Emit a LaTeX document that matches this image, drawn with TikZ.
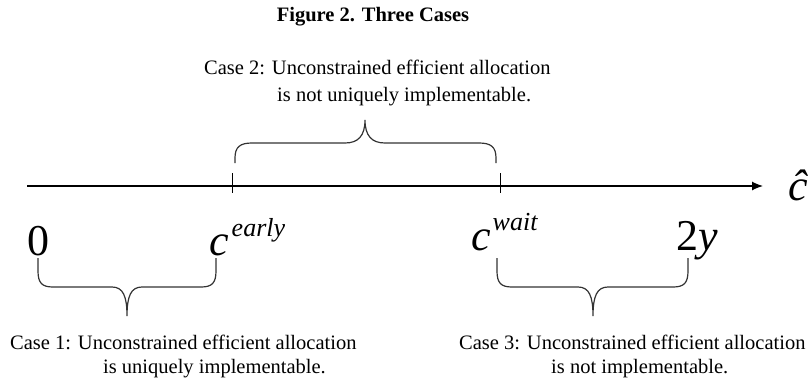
\documentclass[tikz,border=0pt]{standalone}
\usepackage{fontspec}
\setmainfont{Liberation Serif}
\usetikzlibrary{arrows.meta}
\newcommand{\mbig}{\fontsize{44}{44}\selectfont\itshape}
\newcommand{\msup}{\fontsize{26}{26}\selectfont\itshape}
\tikzset{
  lbl/.style={inner sep=0pt, anchor=base west},
  casetxt/.style={inner sep=0pt, anchor=base west, font=\fontsize{20.5}{24}\selectfont},
  brace/.style={line width=1.2pt, draw=black!80},
  tick/.style={line width=1pt}
}
\begin{document}
\begin{tikzpicture}[x=1pt,y=-1pt]
\useasboundingbox (0,0) rectangle (812,378);
% title and upper case
\node[inner sep=0pt, anchor=base, font=\fontsize{20.5}{24}\selectfont\bfseries] (title) at (373,21) {Figure 2. Three Cases};
\node[casetxt] (case2a) at (204,74) {Case 2: Unconstrained efficient allocation};
\node[casetxt] (case2b) at (277,101) {is not uniquely implementable.};
% axis
\coordinate (axl) at (27,186);
\coordinate (axr) at (763,186);
\draw[line width=1.2pt, -{Latex[length=11pt,width=9pt]}] (axl) -- (axr);
\node[lbl] (chat) at (788,200) {\mbig ĉ};
\coordinate (tA) at (232,186);
\coordinate (tB) at (500,186);
\draw[tick] (tA) ++(0,-13) -- ++(0,20);
\draw[tick] (tB) ++(0,-13) -- ++(0,20);
% points
\node[lbl] (zero) at (27,255) {\fontsize{44}{44}\selectfont 0};
\node[lbl] (cearly) at (209,255) {\mbig c\kern3pt\raisebox{19pt}{\msup early}};
\node[lbl] (cwait) at (471,250) {\mbig c\kern2pt\raisebox{20pt}{\msup wait}};
\node[lbl] (twoy) at (676,250) {{\fontsize{44}{44}\selectfont 2}{\mbig y}};
% braces
\coordinate (b2l) at (235,163);
\coordinate (b2r) at (496,163);
\draw[brace] (b2l) -- (235,158) .. controls (235,147) and (240,143) .. (252,143) -- (345,143) .. controls (358,143) and (365,136) .. (365,120) .. controls (365,136) and (372,143) .. (385,143) -- (479,143) .. controls (491,143) and (496,147) .. (496,158) -- (b2r);
\coordinate (b1l) at (38,258);
\coordinate (b1r) at (216,258);
\draw[brace] (b1l) -- (38,271) .. controls (38,283) and (42,287) .. (53,287) -- (112,287) .. controls (123,287) and (127,296) .. (127,316) .. controls (127,296) and (131,287) .. (142,287) -- (201,287) .. controls (212,287) and (216,283) .. (216,271) -- (b1r);
\coordinate (b3l) at (497,258);
\coordinate (b3r) at (688,258);
\draw[brace] (b3l) -- (497,271) .. controls (497,283) and (501,287) .. (512,287) -- (578,287) .. controls (589,287) and (593,296) .. (593,316) .. controls (593,296) and (597,287) .. (608,287) -- (673,287) .. controls (684,287) and (688,283) .. (688,271) -- (b3r);
% lower cases
\node[casetxt] (case1a) at (10,349) {Case 1: Unconstrained efficient allocation};
\node[casetxt] (case1b) at (103,373) {is uniquely implementable.};
\node[casetxt] (case3a) at (459,349) {Case 3: Unconstrained efficient allocation};
\node[casetxt] (case3b) at (551,373) {is not implementable.};
\end{tikzpicture}
\end{document}
